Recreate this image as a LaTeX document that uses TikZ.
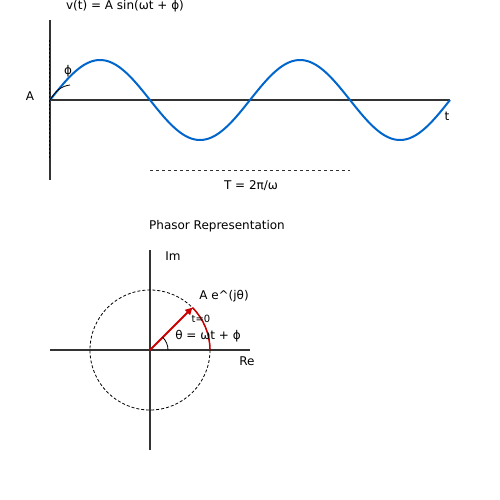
\documentclass[tikz,border=0pt]{standalone}
\usepackage{fontspec}
\setmainfont{DejaVu Sans}
\usetikzlibrary{arrows.meta}
\definecolor{axisgray}{HTML}{333333}
\definecolor{waveblue}{HTML}{0066CC}
\definecolor{phred}{HTML}{CC0000}
\tikzset{
  axis/.style={draw=axisgray, line width=1.5pt},
  lbl/.style={inner sep=0pt, font=\fontsize{12}{14}\selectfont},
  small/.style={inner sep=0pt, font=\fontsize{10}{11}\selectfont},
}
\begin{document}
\begin{tikzpicture}[x=1pt,y=-1pt]
\useasboundingbox (0,0) rectangle (500,500);
% top time-domain plot
\coordinate (vtop) at (50,20);
\coordinate (vbot) at (50,180);
\coordinate (o) at (50,100);
\coordinate (hend) at (450,100);
\draw[axis] (vtop) -- (vbot);
\draw[black, dashed, dash pattern=on 2pt off 2pt, line width=0.8pt] (49.5,40) -- (49.5,160);
\draw[axis] (o) -- (hend);
\draw[waveblue, line width=2pt, domain=50:450, samples=200, smooth]
  plot (\x, {100-40*sin(1.8*(\x-50))});
\draw[black, line width=0.8pt] (o) .. controls (56,90) and (62,86) .. (70,85);
\node[lbl] (A) at (30,96) {A};
\node[lbl] (phi) at (68,71) {ϕ};
\node[lbl] (eq) at (125,6) {v(t) = A sin(ωt + ϕ)};
\node[lbl] (t) at (447,116) {t};
\coordinate (p1) at (150,170);
\coordinate (p2) at (350,170);
\draw[axisgray, dashed, dash pattern=on 3pt off 3pt, line width=1pt] (p1) -- (p2);
\node[lbl] (T) at (251,186) {T = 2π/ω};
% phasor
\node[lbl] (title) at (217,226) {Phasor Representation};
\coordinate (c) at (150,350);
\coordinate (itop) at (150,250);
\coordinate (ibot) at (150,450);
\coordinate (rl) at (50,350);
\coordinate (rr) at (250,350);
\draw[axis] (itop) -- (ibot);
\draw[axis] (rl) -- (rr);
\draw[black, dashed, dash pattern=on 3pt off 2pt, line width=0.8pt] (c) circle[radius=60];
\coordinate (tip) at (192.4,307.6);
\draw[phred, line width=2pt, -{Triangle[length=7pt,width=7pt]}] (c) -- (tip);
\draw[phred, line width=1.5pt] (tip) arc[start angle=45, end angle=0, x radius=60, y radius=-60];
\draw[black, line width=0.8pt] (168,350) arc[start angle=0, end angle=45, x radius=18, y radius=-18];
\node[lbl] (Im) at (173,256) {Im};
\node[lbl] (Re) at (247,361) {Re};
\node[lbl] (Aej) at (224,296) {A e\^{}(jθ)};
\node[small] (t0) at (201,319) {t=0};
\node[lbl] (th) at (208,336) {θ = ωt + ϕ};
\end{tikzpicture}
\end{document}
